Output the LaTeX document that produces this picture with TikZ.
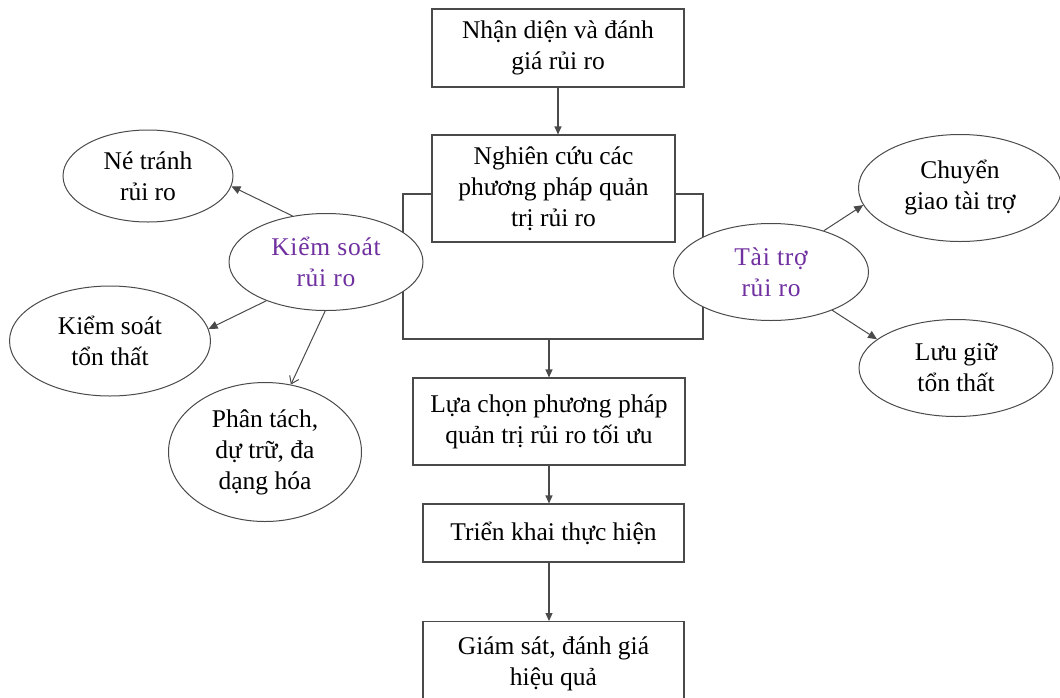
\documentclass[tikz,border=0pt]{standalone}
\usepackage{fontspec}
\setmainfont{Liberation Serif}
\usetikzlibrary{shapes.geometric,arrows.meta}
\definecolor{linegray}{HTML}{4A4A4A}
\definecolor{accent}{HTML}{7030A0}
\newcommand{\spaced}{\addfontfeature{LetterSpace=3}}
\begin{document}
\begin{tikzpicture}[x=1pt,y=-1pt,
  every node/.style={font=\fontsize{25.5}{31}\selectfont, align=center, text=black},
  stepbox/.style={draw=linegray, line width=1.1pt, rectangle, inner sep=0pt, fill=white},
  oval/.style={draw=linegray, line width=1pt, ellipse, inner sep=0pt, fill=white},
  groupoval/.style={oval, text=accent, font=\fontsize{25.5}{31}\selectfont\spaced},
  flow/.style={draw=linegray, line width=1.1pt, -{Triangle[length=8pt,width=7pt]}},
  branch/.style={draw=linegray, line width=1pt, -{Triangle[length=9pt,width=8pt]}},
  openbranch/.style={draw=linegray, line width=1pt, -{Straight Barb[length=7pt,width=10pt]}}
]
\useasboundingbox (0,0) rectangle (1060,697);
\clip (0,0) rectangle (1060,697);

% main flow boxes
\node[stepbox, minimum width=252pt, minimum height=78pt] (ident) at (558,48)
  {Nhận diện và đánh\\giá rủi ro};
\node[stepbox, minimum width=243pt, minimum height=107pt] (study) at (553.5,188.5)
  {Nghiên cứu các\\phương pháp quản\\trị rủi ro};
\node[stepbox, minimum width=272pt, minimum height=87pt] (choose) at (549,421.5)
  {Lựa chọn phương pháp\\quản trị rủi ro tối ưu};
\node[stepbox, minimum width=261pt, minimum height=58pt] (deploy) at (553.5,533)
  {\raisebox{4pt}{Triển khai thực hiện}};
\node[stepbox, minimum width=261pt, minimum height=84pt, anchor=north] (monitor) at (553.5,621)
  {Giám sát, đánh giá\\hiệu quả};

% frame around the study box
\coordinate (fl) at (403,194);
\coordinate (fr) at (703,194);
\coordinate (fbl) at (403,339);
\coordinate (fbr) at (703,339);
\coordinate (fout) at (549,339);
\draw[linegray, line width=1.1pt] (study.west |- fl) -- (fl) -- (fbl) -- (fbr) -- (fr) -- (study.east |- fr);

% flow arrows
\draw[flow] (ident.south) -- (ident.south |- study.north);
\draw[flow] (fout) -- (fout |- choose.north);
\draw[flow] (choose.south) -- (choose.south |- deploy.north);
\draw[flow] (choose.south |- deploy.south) -- (choose.south |- monitor.north);

% risk control group
\node[groupoval, minimum width=194pt, minimum height=97pt] (control) at (326,262)
  {Kiểm soát\\rủi ro};
\node[oval, minimum width=170pt, minimum height=92pt] (avoid) at (148,176)
  {Né tránh\\rủi ro};
\node[oval, minimum width=201pt, minimum height=110pt] (loss) at (110,341)
  {Kiểm soát\\tổn thất};
\node[oval, minimum width=193pt, minimum height=139pt] (split) at (265,452)
  {Phân tách,\\dự trữ, đa\\dạng hóa};

% risk financing group
\node[groupoval, minimum width=195pt, minimum height=97pt] (finance) at (771,272)
  {Tài trợ\\rủi ro};
\node[oval, minimum width=203pt, minimum height=107pt] (transfer) at (960,188)
  {Chuyển\\giao tài trợ};
\node[oval, minimum width=194pt, minimum height=97pt] (retain) at (956,368)
  {Lưu giữ\\tổn thất};

% branch arrows
\draw[branch] (control.126) -- (avoid.-7);
\draw[branch] (control.213) -- (loss.7);
\draw[openbranch] (control.269) -- (split.69);
\draw[branch] (finance.38) -- (transfer.190);
\draw[branch] (finance.-32) -- (retain.160);
\end{tikzpicture}
\end{document}
